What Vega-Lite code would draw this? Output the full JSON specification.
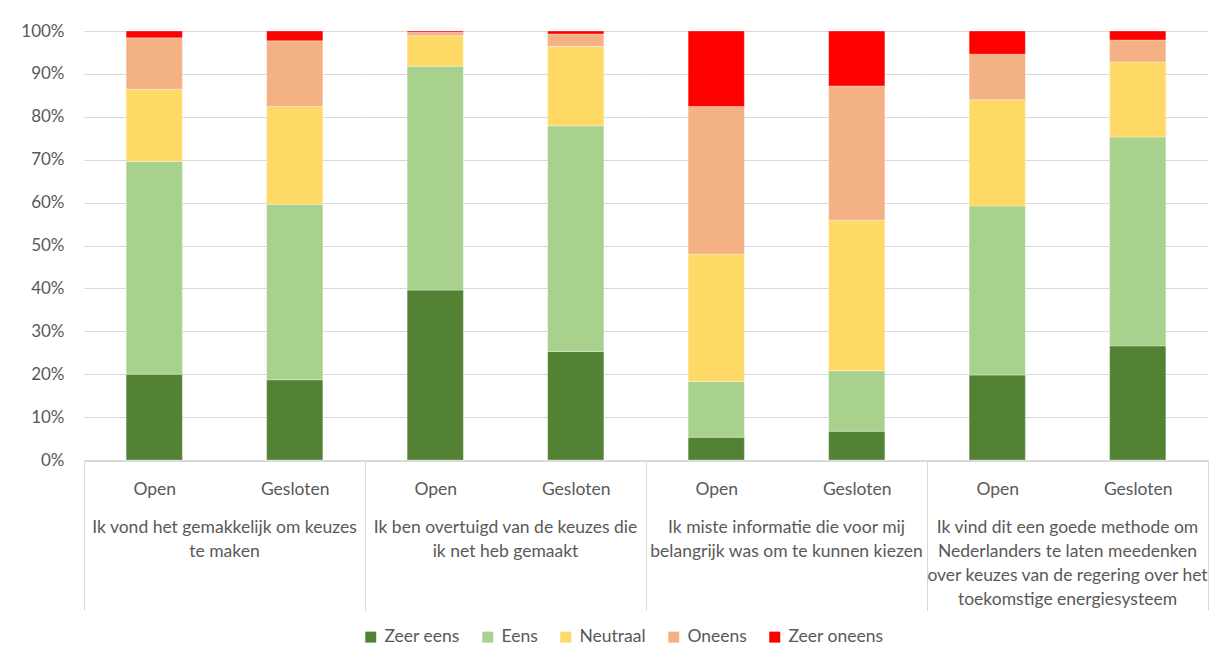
{
  "$schema": "https://vega.github.io/schema/vega-lite/v6.json",
  "background": "white",
  "padding": {"left": 20, "top": 22, "right": 10, "bottom": 0},
  "data": {
    "values": [
      {"q": "Ik vond het gemakkelijk om keuzes te maken", "g": "Open", "a": "Zeer eens", "v": 20.0},
      {"q": "Ik vond het gemakkelijk om keuzes te maken", "g": "Open", "a": "Eens", "v": 49.6},
      {"q": "Ik vond het gemakkelijk om keuzes te maken", "g": "Open", "a": "Neutraal", "v": 16.8},
      {"q": "Ik vond het gemakkelijk om keuzes te maken", "g": "Open", "a": "Oneens", "v": 12.0},
      {"q": "Ik vond het gemakkelijk om keuzes te maken", "g": "Open", "a": "Zeer oneens", "v": 1.6},
      {"q": "Ik vond het gemakkelijk om keuzes te maken", "g": "Gesloten", "a": "Zeer eens", "v": 18.7},
      {"q": "Ik vond het gemakkelijk om keuzes te maken", "g": "Gesloten", "a": "Eens", "v": 40.9},
      {"q": "Ik vond het gemakkelijk om keuzes te maken", "g": "Gesloten", "a": "Neutraal", "v": 22.8},
      {"q": "Ik vond het gemakkelijk om keuzes te maken", "g": "Gesloten", "a": "Oneens", "v": 15.3},
      {"q": "Ik vond het gemakkelijk om keuzes te maken", "g": "Gesloten", "a": "Zeer oneens", "v": 2.3},
      {"q": "Ik ben overtuigd van de keuzes die ik net heb gemaakt", "g": "Open", "a": "Zeer eens", "v": 39.6},
      {"q": "Ik ben overtuigd van de keuzes die ik net heb gemaakt", "g": "Open", "a": "Eens", "v": 52.2},
      {"q": "Ik ben overtuigd van de keuzes die ik net heb gemaakt", "g": "Open", "a": "Neutraal", "v": 7.1},
      {"q": "Ik ben overtuigd van de keuzes die ik net heb gemaakt", "g": "Open", "a": "Oneens", "v": 0.8},
      {"q": "Ik ben overtuigd van de keuzes die ik net heb gemaakt", "g": "Open", "a": "Zeer oneens", "v": 0.3},
      {"q": "Ik ben overtuigd van de keuzes die ik net heb gemaakt", "g": "Gesloten", "a": "Zeer eens", "v": 25.3},
      {"q": "Ik ben overtuigd van de keuzes die ik net heb gemaakt", "g": "Gesloten", "a": "Eens", "v": 52.6},
      {"q": "Ik ben overtuigd van de keuzes die ik net heb gemaakt", "g": "Gesloten", "a": "Neutraal", "v": 18.5},
      {"q": "Ik ben overtuigd van de keuzes die ik net heb gemaakt", "g": "Gesloten", "a": "Oneens", "v": 2.9},
      {"q": "Ik ben overtuigd van de keuzes die ik net heb gemaakt", "g": "Gesloten", "a": "Zeer oneens", "v": 0.7},
      {"q": "Ik miste informatie die voor mij belangrijk was om te kunnen kiezen", "g": "Open", "a": "Zeer eens", "v": 5.3},
      {"q": "Ik miste informatie die voor mij belangrijk was om te kunnen kiezen", "g": "Open", "a": "Eens", "v": 13.0},
      {"q": "Ik miste informatie die voor mij belangrijk was om te kunnen kiezen", "g": "Open", "a": "Neutraal", "v": 29.7},
      {"q": "Ik miste informatie die voor mij belangrijk was om te kunnen kiezen", "g": "Open", "a": "Oneens", "v": 34.4},
      {"q": "Ik miste informatie die voor mij belangrijk was om te kunnen kiezen", "g": "Open", "a": "Zeer oneens", "v": 17.6},
      {"q": "Ik miste informatie die voor mij belangrijk was om te kunnen kiezen", "g": "Gesloten", "a": "Zeer eens", "v": 6.7},
      {"q": "Ik miste informatie die voor mij belangrijk was om te kunnen kiezen", "g": "Gesloten", "a": "Eens", "v": 14.1},
      {"q": "Ik miste informatie die voor mij belangrijk was om te kunnen kiezen", "g": "Gesloten", "a": "Neutraal", "v": 35.1},
      {"q": "Ik miste informatie die voor mij belangrijk was om te kunnen kiezen", "g": "Gesloten", "a": "Oneens", "v": 31.3},
      {"q": "Ik miste informatie die voor mij belangrijk was om te kunnen kiezen", "g": "Gesloten", "a": "Zeer oneens", "v": 12.8},
      {"q": "Ik vind dit een goede methode om Nederlanders te laten meedenken over keuzes van de regering over het toekomstige energiesysteem", "g": "Open", "a": "Zeer eens", "v": 19.8},
      {"q": "Ik vind dit een goede methode om Nederlanders te laten meedenken over keuzes van de regering over het toekomstige energiesysteem", "g": "Open", "a": "Eens", "v": 39.4},
      {"q": "Ik vind dit een goede methode om Nederlanders te laten meedenken over keuzes van de regering over het toekomstige energiesysteem", "g": "Open", "a": "Neutraal", "v": 24.8},
      {"q": "Ik vind dit een goede methode om Nederlanders te laten meedenken over keuzes van de regering over het toekomstige energiesysteem", "g": "Open", "a": "Oneens", "v": 10.6},
      {"q": "Ik vind dit een goede methode om Nederlanders te laten meedenken over keuzes van de regering over het toekomstige energiesysteem", "g": "Open", "a": "Zeer oneens", "v": 5.4},
      {"q": "Ik vind dit een goede methode om Nederlanders te laten meedenken over keuzes van de regering over het toekomstige energiesysteem", "g": "Gesloten", "a": "Zeer eens", "v": 26.6},
      {"q": "Ik vind dit een goede methode om Nederlanders te laten meedenken over keuzes van de regering over het toekomstige energiesysteem", "g": "Gesloten", "a": "Eens", "v": 48.7},
      {"q": "Ik vind dit een goede methode om Nederlanders te laten meedenken over keuzes van de regering over het toekomstige energiesysteem", "g": "Gesloten", "a": "Neutraal", "v": 17.5},
      {"q": "Ik vind dit een goede methode om Nederlanders te laten meedenken over keuzes van de regering over het toekomstige energiesysteem", "g": "Gesloten", "a": "Oneens", "v": 5.1},
      {"q": "Ik vind dit een goede methode om Nederlanders te laten meedenken over keuzes van de regering over het toekomstige energiesysteem", "g": "Gesloten", "a": "Zeer oneens", "v": 2.1}
    ]
  },
  "transform": [
    {"calculate": "indexof(['Zeer eens', 'Eens', 'Neutraal', 'Oneens', 'Zeer oneens'], datum.a)", "as": "rank"}
  ],
  "facet": {
    "column": {
      "field": "q",
      "type": "nominal",
      "title": null,
      "sort": [
        "Ik vond het gemakkelijk om keuzes te maken",
        "Ik ben overtuigd van de keuzes die ik net heb gemaakt",
        "Ik miste informatie die voor mij belangrijk was om te kunnen kiezen",
        "Ik vind dit een goede methode om Nederlanders te laten meedenken over keuzes van de regering over het toekomstige energiesysteem"
      ],
      "header": {
        "labelOrient": "bottom",
        "labelFont": "Lato",
        "labelFontSize": 17.5,
        "labelColor": "#595959",
        "labelLineHeight": 24,
        "labelBaseline": "top",
        "labelPadding": -92,
        "labelExpr": "datum.value == 'Ik vond het gemakkelijk om keuzes te maken' ? ['Ik vond het gemakkelijk om keuzes', 'te maken'] : datum.value == 'Ik ben overtuigd van de keuzes die ik net heb gemaakt' ? ['Ik ben overtuigd van de keuzes die', 'ik net heb gemaakt'] : datum.value == 'Ik miste informatie die voor mij belangrijk was om te kunnen kiezen' ? ['Ik miste informatie die voor mij', 'belangrijk was om te kunnen kiezen'] : ['Ik vind dit een goede methode om', 'Nederlanders te laten meedenken', 'over keuzes van de regering over het', 'toekomstige energiesysteem']"
      }
    }
  },
  "spacing": 0,
  "spec": {
    "width": 281,
    "height": 429,
    "mark": {"type": "bar", "width": {"band": 0.4}, "stroke": "white", "strokeWidth": 0.5, "strokeOpacity": 0.6},
    "encoding": {
      "x": {
        "field": "g",
        "type": "nominal",
        "sort": ["Open", "Gesloten"],
        "scale": {"paddingInner": 0, "paddingOuter": 0},
        "axis": {
          "title": null,
          "labelAngle": 0,
          "labelFont": "Lato",
          "labelFontSize": 17.5,
          "labelColor": "#595959",
          "domainColor": "#d9d9d9",
          "tickBand": "extent",
          "tickSize": 149,
          "tickColor": {"condition": {"test": "datum.value === 'Open'", "value": "transparent"}, "value": "#d9d9d9"},
          "labelPadding": -130
        }
      },
      "y": {
        "field": "v",
        "type": "quantitative",
        "stack": "zero",
        "scale": {"domain": [0, 100], "nice": false},
        "axis": {
          "title": null,
          "values": [0, 10, 20, 30, 40, 50, 60, 70, 80, 90, 100],
          "labelExpr": "datum.value + '%'",
          "labelFont": "Lato",
          "labelFontSize": 17,
          "labelColor": "#595959",
          "labelPadding": 20,
          "ticks": false,
          "domain": false,
          "grid": true,
          "gridColor": "#d9d9d9"
        }
      },
      "order": {"field": "rank", "type": "quantitative", "sort": "ascending"},
      "color": {
        "field": "a",
        "type": "nominal",
        "sort": ["Zeer eens", "Eens", "Neutraal", "Oneens", "Zeer oneens"],
        "scale": {
          "domain": ["Zeer eens", "Eens", "Neutraal", "Oneens", "Zeer oneens"],
          "range": ["#548235", "#A9D18E", "#FFD966", "#F4B183", "#FF0000"]
        },
        "legend": {
          "title": null,
          "orient": "none",
          "legendX": 278,
          "legendY": 597,
          "direction": "horizontal",
          "symbolType": "square",
          "symbolSize": 120,
          "symbolStrokeWidth": 0,
          "labelFont": "Lato",
          "labelFontSize": 17.5,
          "labelColor": "#595959",
          "columnPadding": 19,
          "labelOffset": 5
        }
      }
    }
  },
  "config": {
    "view": {"stroke": null},
    "font": "Lato"
  }
}
